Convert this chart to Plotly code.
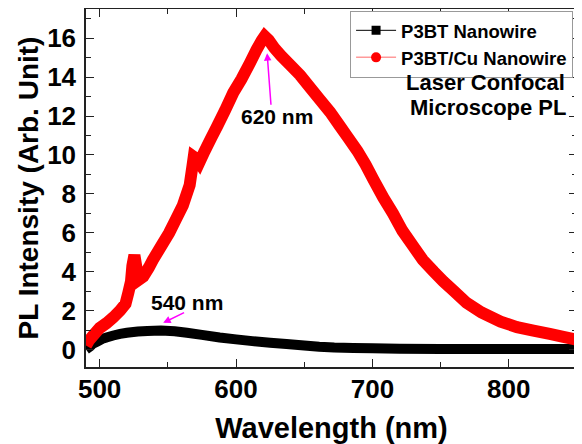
import plotly.graph_objects as go

# ---- data ----
red_x = [490, 492, 495, 500, 505, 510, 515, 519, 521, 523, 524, 525.5, 527, 529, 532, 536, 539,
         545, 551, 556, 561, 566, 568, 569, 571, 573, 577, 582, 586, 592, 598, 604, 610, 615,
         619, 621, 624, 628, 633, 640, 647, 655, 662, 669, 676, 682, 689, 695, 701, 708, 715,
         722, 730, 737, 745, 752, 759, 769, 780, 794, 806, 818, 830, 840, 850]
red_y = [0.2, 0.45, 0.7, 1.1, 1.35, 1.65, 2.0, 2.35, 2.9, 3.5, 4.3, 4.85, 4.2, 3.6, 3.75, 4.2, 4.6,
         5.3, 6.0, 6.7, 7.4, 8.45, 9.4, 9.9, 9.8, 9.6, 10.2, 10.9, 11.45, 12.3, 13.2, 13.9, 14.7, 15.4,
         15.9, 16.1, 15.9, 15.5, 15.1, 14.6, 14.1, 13.4, 12.8, 12.2, 11.5, 10.9, 10.2, 9.5, 8.7, 7.8, 7.0,
         6.1, 5.3, 4.6, 4.0, 3.5, 3.05, 2.4, 1.9, 1.43, 1.15, 0.97, 0.8, 0.65, 0.5]

black_x = [490, 491, 493, 495, 498, 502, 505, 510, 515, 520, 528, 535, 545, 555, 564, 575, 588,
           600, 612, 625, 637, 650, 661, 672, 686, 700, 720, 750, 800, 850]
black_y = [0.0, 0.05, 0.15, 0.3, 0.4, 0.55, 0.62, 0.72, 0.8, 0.86, 0.92, 0.95, 0.97, 0.94, 0.86,
           0.75, 0.62, 0.52, 0.43, 0.35, 0.28, 0.2, 0.14, 0.1, 0.08, 0.06, 0.04, 0.03, 0.02, 0.02]

series_names = ["P3BT Nanowire", "P3BT/Cu Nanowire"]
x_ticks = [500, 600, 700, 800]
y_ticks = [0, 2, 4, 6, 8, 10, 12, 14, 16]

FONT = "Liberation Sans, Arial, sans-serif"

fig = go.Figure()
fig.add_trace(go.Scatter(x=black_x, y=black_y, mode="lines",
                         line=dict(color="black", width=10, simplify=False), showlegend=False))
fig.add_trace(go.Scatter(x=red_x, y=red_y, mode="lines",
                         line=dict(color="#ff0000", width=12, simplify=False), showlegend=False))
# legend entries
fig.add_trace(go.Scatter(x=[None], y=[None], mode="lines+markers", name=series_names[0],
                         line=dict(color="black", width=1),
                         marker=dict(symbol="square", size=9, color="black")))
fig.add_trace(go.Scatter(x=[None], y=[None], mode="lines+markers", name=series_names[1],
                         line=dict(color="#ff9a9a", width=1.5),
                         marker=dict(symbol="circle", size=10, color="#ff0000")))

axis_common = dict(
    showline=True, linecolor="#222", linewidth=1.5, mirror="ticks",
    ticks="inside", ticklen=8, tickwidth=1.3, tickcolor="#222",
    showgrid=False, zeroline=False, automargin=False,
    tickfont=dict(family=FONT, size=26, color="black", weight="bold"),
)

fig.update_xaxes(range=[490, 850], tickvals=x_ticks, ticktext=[str(v) for v in x_ticks],
                 ticklabelstandoff=-2,
                 minor=dict(ticks="inside", dtick=50, tick0=500, ticklen=5, tickwidth=1.3, tickcolor="#222"),
                 title=dict(text="Wavelength (nm)", font=dict(family=FONT, size=29, color="black", weight="bold"),
                            standoff=19),
                 **axis_common)
fig.update_yaxes(range=[-0.9, 17.5], tickvals=y_ticks, ticktext=[str(v) for v in y_ticks],
                 ticklabelstandoff=3,
                 minor=dict(ticks="inside", dtick=1, tick0=0, ticklen=5, tickwidth=1.3, tickcolor="#222"),
                 title=dict(text="PL Intensity (Arb. Unit)", font=dict(family=FONT, size=28, color="black", weight="bold"),
                            standoff=0),
                 **axis_common)

fig.add_annotation(x=622.8, y=15.23, ax=625.7, ay=12.5, xref="x", yref="y", axref="x", ayref="y",
                   showarrow=True, arrowhead=2, arrowsize=1, arrowwidth=1.5, arrowcolor="#ff00ff", text="")
fig.add_annotation(x=630, y=11.96, xref="x", yref="y", showarrow=False, text="620 nm",
                   font=dict(family=FONT, size=21, color="black", weight="bold"))
fig.add_annotation(x=546.6, y=1.37, ax=563, ay=1.93, xref="x", yref="y", axref="x", ayref="y",
                   showarrow=True, arrowhead=2, arrowsize=1, arrowwidth=1.5, arrowcolor="#ff00ff", text="")
fig.add_annotation(x=564.4, y=2.4, xref="x", yref="y", showarrow=False, text="540 nm",
                   font=dict(family=FONT, size=21, color="black", weight="bold"))
fig.add_annotation(x=782.6, y=13.7, xref="x", yref="y", showarrow=False, text="Laser Confocal",
                   font=dict(family=FONT, size=22, color="black", weight="bold"))
fig.add_annotation(x=784.5, y=12.42, xref="x", yref="y", showarrow=False, text="Microscope PL",
                   font=dict(family=FONT, size=22, color="black", weight="bold"))

# page body has an 8px default margin on top/left: size/margins compensate so the plot lands where the reference has it
fig.update_layout(
    width=574, height=436,
    margin=dict(l=78, r=5, t=1, b=77),
    plot_bgcolor="white", paper_bgcolor="white",
    font=dict(family=FONT, color="black"),
    legend=dict(x=0.992, y=0.995, xanchor="right", yanchor="top",
                bgcolor="white", bordercolor="#999", borderwidth=1,
                font=dict(family=FONT, size=18.5, color="black", weight="bold"),
                itemwidth=40, tracegroupgap=0),
)

fig.write_html("out.html")
